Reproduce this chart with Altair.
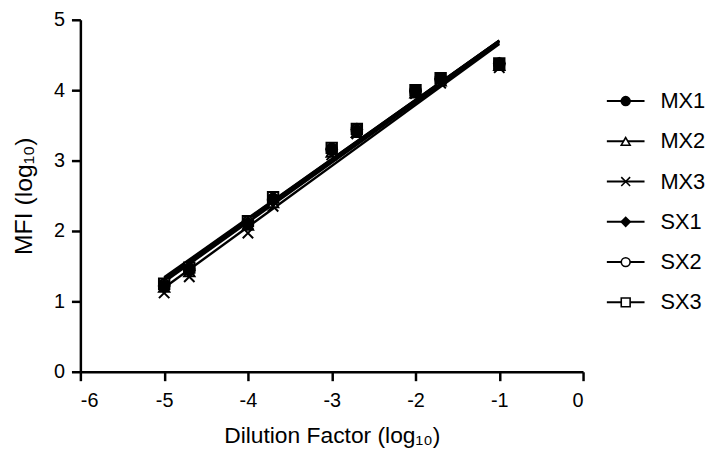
import altair as alt
import pandas as pd

dilution = [-5, -4.7, -4, -3.7, -3, -2.7, -2, -1.7, -1]
series = ["MX1", "MX2", "MX3", "SX1", "SX2", "SX3"]
mx1 = [1.22, 1.45, 2.10, 2.45, 3.15, 3.42, 3.98, 4.15, 4.37]
mx2 = [1.20, 1.42, 2.08, 2.40, 3.12, 3.40, 3.96, 4.13, 4.35]
mx3 = [1.12, 1.35, 1.97, 2.35, 3.08, 3.38, 3.95, 4.10, 4.32]
sx1 = [1.22, 1.44, 2.12, 2.44, 3.16, 3.44, 3.99, 4.16, 4.38]
sx2 = [1.24, 1.47, 2.13, 2.46, 3.17, 3.45, 4.00, 4.17, 4.38]
sx3 = [1.25, 1.48, 2.14, 2.48, 3.18, 3.45, 4.00, 4.17, 4.38]
x_ticks = [-6, -5, -4, -3, -2, -1, 0]
y_ticks = [0, 1, 2, 3, 4, 5]

shapes = ["circle", "triangle-up", "M-1,-1L1,1M-1,1L1,-1", "diamond", "circle", "square"]
fills = ["black", "white", "white", "black", "white", "white"]
draw_order = ["SX3", "SX2", "MX2", "MX3", "MX1", "SX1"]

values = dict(zip(series, [mx1, mx2, mx3, sx1, sx2, sx3]))
rows = []
for s in draw_order:
    for d, v in zip(dilution, values[s]):
        rows.append({"series": s, "x": d, "y": v})
df = pd.DataFrame(rows)
leg = pd.DataFrame({"series": series, "idx": list(range(len(series)))})

FONT = "Liberation Sans"
shape_scale = alt.Scale(domain=series, range=shapes)
fill_scale = alt.Scale(domain=series, range=fills)
hyphen = "datum.value < 0 ? '-' + abs(datum.value) : '' + datum.value"

common = dict(grid=False, tickSize=9, tickWidth=2.5, domainWidth=2.5, domainColor="black",
              tickColor="black", labelFontSize=20, titleFontWeight="normal",
              labelFont=FONT, titleFont=FONT, labelColor="black", titleColor="black",
              labelExpr=hyphen)
xenc = alt.X("x:Q", scale=alt.Scale(domain=[-6, 0], nice=False),
             axis=alt.Axis(values=x_ticks, title="Dilution Factor (log₁₀)", labelPadding=10,
                           titleFontSize=23, titlePadding=14, **common))
yenc = alt.Y("y:Q", scale=alt.Scale(domain=[0, 5], nice=False),
             axis=alt.Axis(values=y_ticks, title="MFI (log₁₀)", labelPadding=7,
                           titleFontSize=25, titlePadding=17, **common))

base = alt.Chart(df)
lines = base.transform_regression("x", "y", groupby=["series"], extent=[-5, -1]).mark_line(
    color="black", strokeWidth=2.4).encode(x=xenc, y=yenc, detail="series:N")
points = base.mark_point(filled=True, size=110, stroke="black", strokeWidth=2, opacity=1).encode(
    x=xenc, y=yenc,
    shape=alt.Shape("series:N", scale=shape_scale, legend=None),
    fill=alt.Fill("series:N", scale=fill_scale, legend=None),
)
main = alt.layer(lines, points).properties(width=507, height=355)

ly = alt.Y("idx:Q", scale=alt.Scale(domain=[0, len(series) - 1], range=[82, 285]), axis=None)
lrule = alt.Chart(leg).mark_rule(color="black", strokeWidth=2).encode(
    x=alt.value(0), x2=alt.value(38), y=ly)
lpoint = alt.Chart(leg).mark_point(filled=True, size=80, stroke="black", strokeWidth=1.6, opacity=1).encode(
    x=alt.value(19), y=ly,
    shape=alt.Shape("series:N", scale=shape_scale, legend=None),
    fill=alt.Fill("series:N", scale=fill_scale, legend=None),
)
ltext = alt.Chart(leg).mark_text(align="left", baseline="middle", fontSize=22, font=FONT, color="black").encode(
    x=alt.value(54), y=ly, text="series:N")
legend = alt.layer(lrule, lpoint, ltext).properties(width=100, height=355)

chart = alt.hconcat(main, legend, spacing=21).configure_view(stroke=None).properties(
    padding={"left": 3, "top": 0, "right": 0, "bottom": 0})

chart.save("out.html", embed_options={"renderer": "svg", "actions": False})
